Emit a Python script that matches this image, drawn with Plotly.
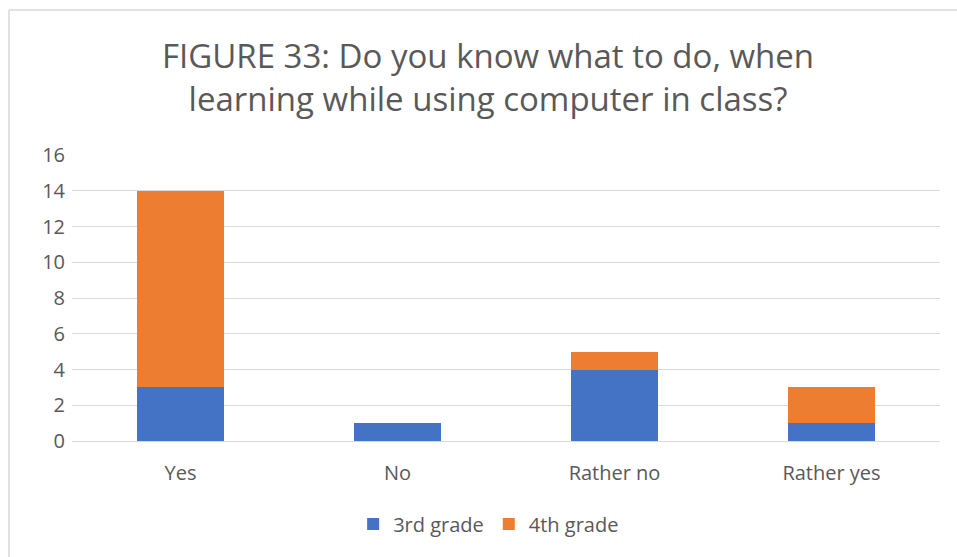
import plotly.graph_objects as go

categories = ["Yes", "No", "Rather no", "Rather yes"]
grade3 = [3, 1, 4, 1]
grade4 = [11, 0, 1, 2]
y_ticks = [0, 2, 4, 6, 8, 10, 12, 14, 16]

W, H = 957, 557
L, R, T, B = 72, 17, 155, 116
pw, ph = W - L - R, H - T - B

def px_to_paper_x(px):
    return (px - L) / pw

def px_to_paper_y(py):
    return (H - B - py) / ph

text_color = "#595959"
font_family = "Open Sans, Liberation Sans, sans-serif"

fig = go.Figure()
fig.add_trace(go.Bar(name="3rd grade", x=categories, y=grade3,
                     marker=dict(color="#4472C4", line=dict(width=0))))
fig.add_trace(go.Bar(name="4th grade", x=categories, y=grade4,
                     marker=dict(color="#ED7D31", line=dict(width=0))))

fig.update_layout(
    width=W, height=H,
    barmode="stack",
    bargap=0.6,
    paper_bgcolor="white",
    plot_bgcolor="white",
    margin=dict(l=L, r=R, t=T, b=B),
    font=dict(family=font_family, color=text_color),
    title=dict(
        text="FIGURE 33: Do you know what to do, when<br>learning while using computer in class?",
        x=0.51, xanchor="center",
        y=1 - 68 / H, yanchor="middle",
        font=dict(size=33, color=text_color, family=font_family),
    ),
    xaxis=dict(
        showgrid=False, showline=False, ticks="",
        tickfont=dict(size=20, color=text_color),
        ticklabelstandoff=18,
    ),
    yaxis=dict(
        range=[0, 16], tickvals=y_ticks,
        showgrid=True, gridcolor="#d9d9d9", gridwidth=1,
        zeroline=True, zerolinecolor="#d9d9d9", zerolinewidth=1,
        showline=False, ticks="",
        tickfont=dict(size=20, color=text_color),
        ticklabelstandoff=6,
    ),
    legend=dict(
        orientation="h", x=0.48, xanchor="center",
        y=px_to_paper_y(524), yanchor="middle",
        font=dict(size=20, color=text_color),
        traceorder="normal",
        itemwidth=30,
    ),
    showlegend=True,
)

# chart frame (top and left edges)
fig.add_shape(type="line", xref="paper", yref="paper",
              x0=px_to_paper_x(9), x1=px_to_paper_x(960),
              y0=px_to_paper_y(10), y1=px_to_paper_y(10),
              line=dict(color="#d9d9d9", width=1.5))
fig.add_shape(type="line", xref="paper", yref="paper",
              x0=px_to_paper_x(9), x1=px_to_paper_x(9),
              y0=px_to_paper_y(10), y1=px_to_paper_y(560),
              line=dict(color="#d9d9d9", width=1.5))

fig.write_html("out.html")
